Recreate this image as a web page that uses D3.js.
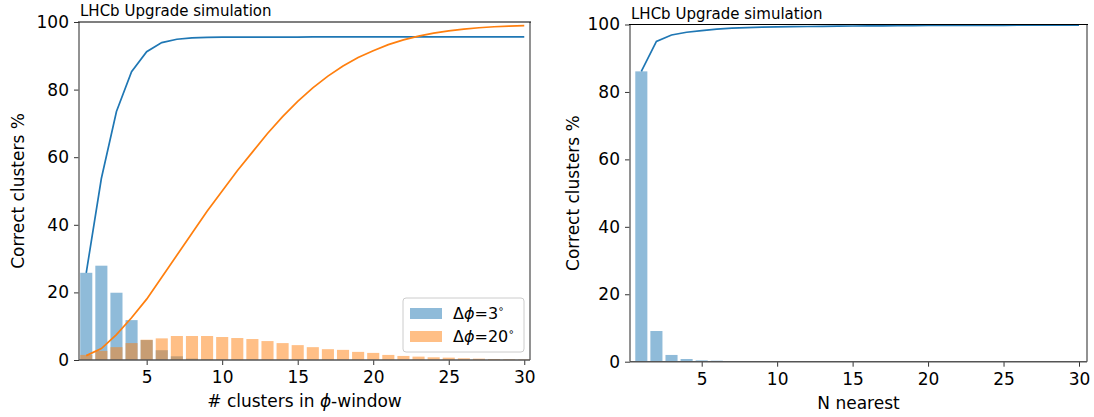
<!DOCTYPE html>
<html><head><meta charset="utf-8">
<script src="https://cdn.jsdelivr.net/npm/d3@7"></script>
<style>
body{margin:0;background:#fff;}
svg{font-family:"DejaVu Sans",sans-serif;}
</style></head>
<body><svg id="c" width="1094" height="417"></svg>
<script>
const nClusters = d3.range(1,31);
const bars3 = [25.8,27.9,19.9,11.8,5.9,2.9,1.1,0.4,0.15,0.06,0.03,0.02,0.01,0.01,0,0,0,0,0,0,0,0,0,0,0,0,0,0,0,0];
const bars20 = [1.5,2.7,3.8,5.0,6.0,6.4,7.1,7.1,7.1,6.8,6.5,6.2,5.6,5.0,4.4,3.8,3.2,3.0,2.4,2.1,1.5,1.2,1.0,0.8,0.7,0.5,0.4,0.3,0.2,0.15];
const cum3 = [25.8,53.7,73.5,85.3,91.2,93.9,94.9,95.3,95.45,95.5,95.5,95.55,95.55,95.55,95.55,95.6,95.6,95.6,95.6,95.6,95.6,95.6,95.6,95.6,95.6,95.6,95.6,95.6,95.6,95.6];
const cum20 = [1.3,3.4,7.5,12.5,18.0,24.5,31.0,37.5,44.0,50.0,56.0,61.5,67.0,72.0,76.5,80.5,84.0,87.0,89.5,91.5,93.3,94.7,95.8,96.7,97.4,97.9,98.3,98.6,98.8,98.9];
const nNearest = d3.range(1,31);
const barsNearest = [86.1,9.1,2.0,0.8,0.4,0.3,0.1,0.08,0.06,0.05,0.05,0.04,0.04,0.03,0.03,0.03,0.03,0.02,0.02,0.02,0.02,0.02,0.02,0.02,0.02,0.02,0.02,0.02,0.02,0.02];
const cumNearest = [86.1,95.0,96.9,97.7,98.2,98.6,98.9,99.1,99.2,99.3,99.35,99.4,99.45,99.5,99.55,99.6,99.62,99.65,99.67,99.7,99.72,99.74,99.75,99.76,99.77,99.78,99.79,99.8,99.8,99.8];
const xTicks = [5,10,15,20,25,30];
const yTicks = [0,20,40,60,80,100];
const titleText = "LHCb Upgrade simulation";
const yLabel = "Correct clusters %";

const svg = d3.select("#c");
const BLUE="#1f77b4", ORANGE="#ff7f0e";

function panel(o){
  const x = d3.scaleLinear().domain(o.xdom).range([o.x0,o.x1]);
  const y = d3.scaleLinear().domain([0,100]).range([o.y1,o.y0]);
  const g = svg.append("g");
  o.bars.forEach(b=>{
    g.selectAll(null).data(b.vals).enter().append("rect")
      .attr("x",(d,i)=>x(b.xs[i]-0.4)).attr("width",x(1.8)-x(1))
      .attr("y",d=>y(d)).attr("height",d=>y(0)-y(d))
      .attr("fill",b.color).attr("fill-opacity",0.5);
  });
  o.lines.forEach(l=>{
    g.append("path").datum(l.vals)
      .attr("d",d3.line().x((d,i)=>x(l.xs[i])).y(d=>y(d)))
      .attr("fill","none").attr("stroke",l.color).attr("stroke-width",1.7);
  });
  const ax = g.append("g").attr("transform",`translate(0,${o.y1})`)
    .call(d3.axisBottom(x).tickValues(xTicks).tickSize(5).tickPadding(6).tickSizeOuter(0));
  const ay = g.append("g").attr("transform",`translate(${o.x0},0)`)
    .call(d3.axisLeft(y).tickValues(yTicks).tickSize(5).tickPadding(5).tickSizeOuter(0));
  [ax,ay].forEach(a=>{
    a.select(".domain").remove();
    a.selectAll("text").attr("font-size",17).attr("fill","#000").attr("font-family","DejaVu Sans");
    a.selectAll("line").attr("stroke","#333");
  });
  g.append("line").attr("x1",o.x0).attr("x2",o.x0).attr("y1",o.y0).attr("y2",o.y1).attr("stroke","#777").attr("stroke-width",1.6);
  g.append("line").attr("x1",o.x1).attr("x2",o.x1).attr("y1",o.y0).attr("y2",o.y1).attr("stroke","#777").attr("stroke-width",1.6);
  g.append("line").attr("x1",o.x0).attr("x2",o.x1).attr("y1",o.y1).attr("y2",o.y1).attr("stroke","#555").attr("stroke-width",1.4);
  g.append("line").attr("x1",o.x0-1).attr("x2",o.x1+1).attr("y1",o.y0).attr("y2",o.y0).attr("stroke","#000").attr("stroke-width",1.2);
  g.append("text").attr("x",o.x0+1).attr("y",o.y0-6).attr("font-size",15).text(titleText);
  g.append("text").attr("transform",`translate(${o.ylx},${(o.y0+o.y1)/2}) rotate(-90)`)
    .attr("text-anchor","middle").attr("font-size",17).text(yLabel);
  return {g,x,y};
}

const L = panel({x0:79,x1:530,y0:22,y1:360,xdom:[0.52,30.38],ylx:24,
  bars:[{xs:nClusters,vals:bars3,color:BLUE},{xs:nClusters,vals:bars20,color:ORANGE}],
  lines:[{xs:nClusters,vals:cum3,color:BLUE},{xs:nClusters,vals:cum20,color:ORANGE}]});
const xl = L.g.append("text").attr("x",(79+530)/2).attr("y",407).attr("text-anchor","middle").attr("font-size",17);
xl.append("tspan").text("# clusters in ");
xl.append("tspan").attr("font-style","italic").text("ϕ");
xl.append("tspan").text("-window");

const lg = L.g.append("g");
lg.append("rect").attr("x",403).attr("y",298).attr("width",121).attr("height",54).attr("rx",3)
  .attr("fill","#fff").attr("fill-opacity",0.8).attr("stroke","#ccc");
const legItems = [{lab:"3",color:BLUE},{lab:"20",color:ORANGE}];
legItems.forEach((it,i)=>{
  const yy = 308 + i*23;
  lg.append("rect").attr("x",410).attr("y",yy).attr("width",32).attr("height",11).attr("fill",it.color).attr("fill-opacity",0.5);
  const t = lg.append("text").attr("x",453).attr("y",yy+11).attr("font-size",16);
  t.append("tspan").text("Δ");
  t.append("tspan").attr("font-style","italic").text("ϕ");
  t.append("tspan").text("="+it.lab);
  t.append("tspan").attr("font-size",10).attr("dy",-7).text("∘");
});

const R = panel({x0:630,x1:1087,y0:24.5,y1:361.7,xdom:[0.25,30.53],ylx:579,
  bars:[{xs:nNearest,vals:barsNearest,color:BLUE}],
  lines:[{xs:nNearest,vals:cumNearest,color:BLUE}]});
R.g.append("text").attr("x",(630+1087)/2).attr("y",409).attr("text-anchor","middle").attr("font-size",17).text("N nearest");
</script></body></html>
